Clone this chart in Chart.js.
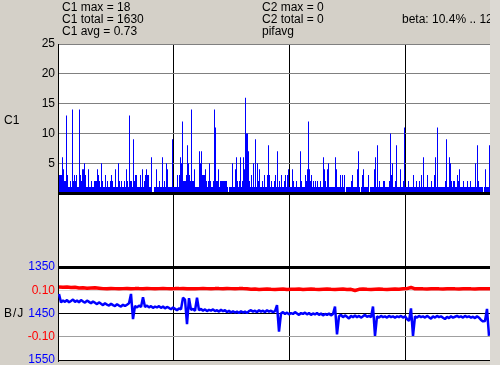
<!DOCTYPE html>
<html><head><meta charset="utf-8">
<script src="https://cdn.jsdelivr.net/npm/chart.js@4.4.1/dist/chart.umd.min.js"></script>
<style>
html,body{margin:0;padding:0;background:#d4d0c8;overflow:hidden;}
#wrap{position:relative;width:500px;height:365px;overflow:hidden;background:#d4d0c8;font-family:"Liberation Sans",Arial,sans-serif;font-size:12px;color:#000;}
.t{position:absolute;white-space:nowrap;line-height:12px;}
#plotbg{position:absolute;left:58px;top:44px;width:432px;height:316px;background:#fff;}
canvas{position:absolute;left:0;top:0;}
#strip{position:absolute;left:490px;top:0;width:10px;height:365px;background:#dcd9d3;}
</style></head>
<body><div id="wrap">
<div id="plotbg"></div>
<canvas id="cA" width="500" height="400"></canvas>
<canvas id="cB" width="500" height="400"></canvas>
<div class="t" style="left:62px;top:1px">C1 max = 18</div>
<div class="t" style="left:62px;top:13px">C1 total = 1630</div>
<div class="t" style="left:62px;top:25px">C1 avg = 0.73</div>
<div class="t" style="left:262px;top:1px">C2 max = 0</div>
<div class="t" style="left:262px;top:13px">C2 total = 0</div>
<div class="t" style="left:262px;top:25px">pifavg</div>
<div class="t" style="left:402px;top:13px">beta: 10.4% .. 12.6%</div>
<div class="t" style="left:4px;top:114px">C1</div>
<div class="t" style="left:4px;top:307px;letter-spacing:1px">B/J</div>
<div id="strip"></div>
</div>
<script>
// C1 counts, one per pixel column (x index 0..430)
const c1Values = [
3,3,3,6,4,2,2,13,3,1, 1,2,1,14,2,3,2,3,1,1, 14,3,2,4,4,5,3,1,1,4, 1,1,2,1,1,2,2,2,4,3,
2,1,5,2,1,1,3,1,2,1, 1,2,3,2,1,1,4,1,1,5, 2,1,2,1,1,2,1,4,2,1, 13,2,2,1,9,2,3,3,1,1,
1,3,1,4,1,2,3,4,3,3, 1,1,6,0,0,1,1,4,1,1, 2,1,1,6,1,2,1,5,4,1, 1,1,1,9,1,1,1,1,3,1,
3,6,5,12,2,2,2,3,8,5, 3,2,14,2,2,4,1,1,1,1, 7,5,7,3,3,3,4,2,1,2, 5,2,1,1,2,14,11,2,2,4,
1,2,2,2,2,2,2,2,1,0, 1,1,1,5,1,1,4,6,2,1, 2,6,1,2,6,4,16,10,10,7, 2,1,3,1,5,1,9,1,5,2,
4,1,1,2,1,3,1,1,3,8, 3,1,2,1,1,2,3,1,7,1, 2,1,3,1,1,2,3,1,3,4, 1,1,1,4,2,1,1,2,1,1,
1,7,2,1,1,1,3,2,4,12, 4,2,3,1,2,1,2,1,2,1, 1,2,1,1,6,4,2,1,4,5, 1,1,1,1,1,1,6,4,1,1,
1,3,1,3,1,3,0,1,1,1, 1,1,2,3,1,1,1,1,4,7, 1,0,1,3,4,1,1,1,1,3, 0,1,1,1,1,4,6,1,8,1,
2,1,1,1,2,2,1,1,1,1, 2,10,3,5,1,1,2,8,1,1, 1,4,1,1,2,11,1,1,1,2, 1,1,1,1,3,1,1,2,1,1,
2,1,3,1,6,1,1,1,3,1, 1,1,2,1,1,3,6,1,11,1, 1,1,1,1,1,1,2,9,1,1, 6,5,2,1,2,2,1,1,3,2,
4,1,1,1,2,1,1,1,2,1, 1,2,1,1,1,1,5,1,8,2, 1,1,1,1,0,1,4,1,1,1, 8
];
// B series (blue), one value every 2 columns
const bValues = [1408,1426,1422,1425,1421,1426,1423,1420,1425,1422,
1426,1421,1424,1427,1422,1425,1428,1424,1427,1430,
1426,1429,1432,1428,1431,1433,1429,1432,1434,1430,
1433,1435,1431,1434,1431,1428,1408,1462,1434,1437,
1433,1436,1415,1436,1433,1437,1434,1438,1435,1437,
1434,1438,1435,1439,1436,1438,1441,1437,1440,1443,
1439,1441,1416,1420,1473,1417,1442,1440,1444,1416,
1443,1440,1444,1441,1445,1442,1444,1441,1445,1443,
1446,1442,1445,1443,1447,1444,1448,1445,1448,1446,
1449,1445,1448,1446,1449,1445,1443,1446,1444,1447,
1443,1446,1444,1447,1443,1446,1444,1447,1445,1432,
1489,1450,1447,1451,1448,1452,1449,1451,1447,1450,
1453,1449,1451,1448,1452,1449,1453,1450,1452,1449,
1453,1450,1454,1451,1453,1450,1454,1451,1435,1495,
1456,1453,1458,1454,1457,1461,1455,1458,1454,1458,
1455,1459,1456,1453,1457,1455,1458,1435,1498,1456,
1459,1455,1458,1456,1459,1455,1458,1456,1459,1456,
1458,1455,1459,1456,1462,1466,1439,1498,1456,1459,
1455,1458,1456,1459,1455,1458,1461,1456,1459,1455,
1458,1456,1459,1462,1457,1460,1456,1459,1457,1455,
1458,1456,1459,1455,1458,1456,1459,1457,1460,1456,
1459,1464,1467,1466,1440,1498];
// J series (red), one value every 4 columns
const jValues = [0.114,0.113,0.114,0.112,0.113,0.110,0.111,0.109,0.110,0.111,
0.109,0.107,0.106,0.108,0.107,0.106,0.107,0.108,0.106,0.107,
0.107,0.106,0.108,0.107,0.106,0.107,0.108,0.107,0.106,0.107,
0.107,0.108,0.106,0.107,0.106,0.107,0.108,0.107,0.106,0.107,
0.107,0.106,0.108,0.107,0.106,0.107,0.107,0.106,0.104,0.105,
0.103,0.104,0.105,0.104,0.103,0.104,0.105,0.103,0.104,0.104,
0.105,0.103,0.104,0.105,0.104,0.103,0.104,0.105,0.104,0.103,
0.104,0.105,0.103,0.104,0.099,0.104,0.105,0.104,0.103,0.104,
0.105,0.104,0.103,0.104,0.105,0.104,0.106,0.107,0.112,0.106,
0.107,0.106,0.105,0.106,0.107,0.106,0.105,0.106,0.107,0.106,
0.105,0.106,0.107,0.106,0.105,0.106,0.107,0.106,0.106];
const xGridLines = [114, 230, 346];
const c1Ticks = [0, 5, 10, 15, 20, 25];
const bjGridValues = [1350,1375,1400,1425,1450,1475,1500,1525,1550];
const bjLabelValues = [1350,1400,1450,1500,1550];
const bjLabels = ['1350','0.10','1450','-0.10','1550'];
const bjLabelColors = ['#0000ff','#ff0000','#0000ff','#ff0000','#0000ff'];

Chart.defaults.font.family = '"Liberation Sans", Arial, sans-serif';
Chart.defaults.font.size = 12;

const xScale = () => ({
  type:'linear', min:-1, max:431, offset:false,
  afterBuildTicks: s => { s.ticks = xGridLines.map(v => ({value:v})); },
  ticks:{display:false},
  grid:{color:'#000', lineWidth:1, drawTicks:false, offset:false},
  border:{display:false},
  afterFit: s => { s.height = 0; }
});

const baseLine = {
  id:'baseLine',
  afterDatasetsDraw(chart){
    const y = chart.scales.y.getPixelForValue(0);
    const a = chart.chartArea, ctx = chart.ctx;
    ctx.save(); ctx.fillStyle = '#000';
    ctx.fillRect(a.left, Math.round(y) - 1, a.right - a.left, 3);
    ctx.restore();
  }
};

new Chart(document.getElementById('cA'), {
  type:'bar',
  data:{datasets:[{
    data: c1Values.map((v,i) => ({x:i+0.5, y:v})),
    backgroundColor:'#0000ff', borderWidth:0, barThickness:1, inflateAmount:0
  }]},
  options:{
    responsive:false, animation:false, events:[],
    layout:{padding:{left:0,right:10,top:44,bottom:133}},
    plugins:{legend:{display:false}, tooltip:{enabled:false}},
    scales:{
      x: xScale(),
      y:{
        min:-12.416, max:25,
        afterBuildTicks: s => { s.ticks = c1Ticks.map(v => ({value:v})); },
        ticks:{callback: v => v === 0 ? '' : String(v), color:'#000', padding:3},
        grid:{color: c => c.tick && c.tick.value === 0 ? 'rgba(0,0,0,0)' : '#808080', lineWidth:1, drawTicks:false},
        border:{display:true, color:'#000', width:1},
        afterFit: s => { s.width = 58; }
      }
    }
  },
  plugins:[baseLine]
});

new Chart(document.getElementById('cB'), {
  type:'line',
  data:{datasets:[
    {data: jValues.map((v,i) => ({x:i*4, y:v})), yAxisID:'yJ', borderColor:'#ff0000', borderWidth:3.5, borderJoinStyle:'bevel', pointRadius:0, tension:0},
    {data: bValues.map((v,i) => ({x:i*2, y:v})), yAxisID:'yB', borderColor:'#0000ff', borderWidth:2.5, borderJoinStyle:'bevel', pointRadius:0, tension:0}
  ]},
  options:{
    responsive:false, animation:false, events:[],
    layout:{padding:{left:0,right:10,top:267,bottom:40}},
    plugins:{legend:{display:false}, tooltip:{enabled:false}},
    scales:{
      x: xScale(),
      yB:{
        position:'left', reverse:true, min:1350, max:1550,
        afterBuildTicks: s => { s.ticks = bjGridValues.map(v => ({value:v})); },
        ticks:{
          callback: v => { const k = bjLabelValues.indexOf(v); return k < 0 ? '' : bjLabels[k]; },
          color: c => { const k = bjLabelValues.indexOf(c.tick.value); return k < 0 ? '#000' : bjLabelColors[k]; },
          padding:3
        },
        grid:{
          color: c => { const v = c.tick.value; return (v===1350||v===1450||v===1550) ? '#000' : (v===1500 ? '#a0a0a0' : '#dcdcdc'); },
          lineWidth: c => c.tick.value === 1350 ? 3 : 1,
          drawTicks:false
        },
        border:{display:true, color:'#000', width:1},
        afterFit: s => { s.width = 58; }
      },
      yJ:{display:false, min:-0.2, max:0.2}
    }
  }
});
</script>
</body></html>
